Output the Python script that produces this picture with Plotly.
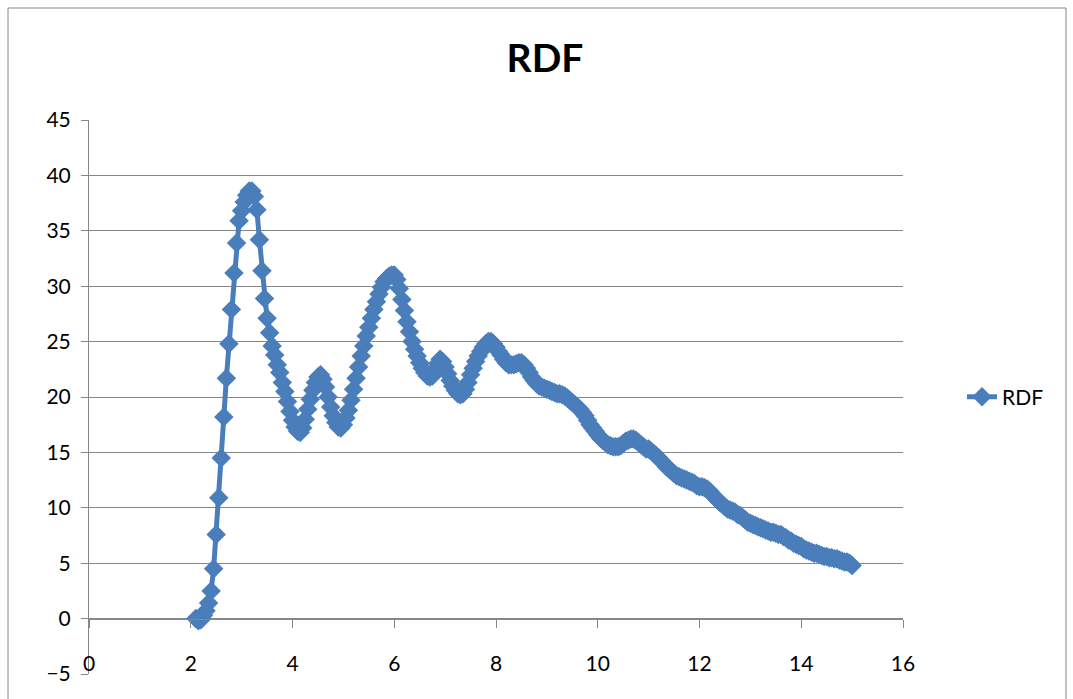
import numpy as np
import plotly.graph_objects as go

# x grid: 2.10 .. 15.00 step 0.05
x_start, x_step = 2.10, 0.05

rdf_values = [
    0.0, -0.2, -0.1, 0.3, 0.7, 1.4, 2.5, 4.5, 7.6, 10.9,            # 2.10-2.55
    14.5, 18.2, 21.7, 24.8, 27.9, 31.2, 33.9, 35.9, 36.8, 37.6,     # 2.60-3.05
    38.2, 38.6, 38.6, 38.1, 36.9, 34.2, 31.4, 28.9, 27.1, 25.8,     # 3.10-3.55
    24.6, 23.8, 22.9, 22.2, 21.3, 20.5, 19.6, 18.7, 17.9, 17.3,     # 3.60-4.05
    16.9, 16.8, 17.2, 18.0, 18.9, 19.8, 20.6, 21.3, 21.8, 22.0,     # 4.10-4.55
    21.6, 20.9, 20.0, 19.1, 18.3, 17.7, 17.3, 17.2, 17.5, 18.1,     # 4.60-5.05
    18.8, 19.7, 20.7, 21.7, 22.7, 23.7, 24.6, 25.5, 26.3, 27.1,     # 5.10-5.55
    27.9, 28.6, 29.3, 29.9, 30.4, 30.7, 30.9, 31.0, 31.0, 30.6,     # 5.60-6.05
    29.8, 28.8, 27.8, 26.8, 25.9, 25.0, 24.3, 23.7, 23.1, 22.6,     # 6.10-6.55
    22.2, 21.9, 21.8, 21.9, 22.4, 23.0, 23.4, 23.2, 22.7, 22.1,     # 6.60-7.05
    21.5, 21.0, 20.6, 20.3, 20.2, 20.3, 20.7, 21.3, 22.0, 22.6,     # 7.10-7.55
    23.2, 23.7, 24.1, 24.5, 24.8, 25.0, 25.0, 24.8, 24.5, 24.1,     # 7.60-8.05
    23.8, 23.4, 23.1, 22.9, 22.9, 22.9, 23.0, 23.1, 23.1, 22.9,     # 8.10-8.55
    22.6, 22.2, 21.8, 21.5, 21.2, 21.0, 20.9, 20.8, 20.7, 20.6,     # 8.60-9.05
    20.5, 20.4, 20.3, 20.3, 20.2, 20.1, 19.9, 19.7, 19.5, 19.3,     # 9.10-9.55
    19.1, 18.9, 18.6, 18.3, 17.9, 17.5, 17.2, 16.9, 16.6, 16.3,     # 9.60-10.05
    16.1, 15.9, 15.7, 15.6, 15.5, 15.5, 15.5, 15.6, 15.8, 16.0,     # 10.10-10.55
    16.1, 16.2, 16.2, 16.1, 15.9, 15.7, 15.5, 15.3, 15.3, 15.1,     # 10.60-11.05
    14.9, 14.7, 14.5, 14.2, 14.0, 13.7, 13.5, 13.3, 13.1, 12.9,     # 11.10-11.55
    12.8, 12.7, 12.6, 12.5, 12.4, 12.3, 12.2, 12.0, 11.9, 11.9,     # 11.60-12.05
    11.8, 11.7, 11.5, 11.2, 11.0, 10.7, 10.5, 10.3, 10.1, 9.9,      # 12.10-12.55
    9.8, 9.7, 9.6, 9.4, 9.3, 9.1, 8.9, 8.7, 8.6, 8.5,               # 12.60-13.05
    8.4, 8.3, 8.2, 8.1, 8.0, 7.9, 7.8, 7.8, 7.7, 7.6,               # 13.10-13.55
    7.6, 7.4, 7.3, 7.1, 7.0, 6.8, 6.7, 6.6, 6.5, 6.3,               # 13.60-14.05
    6.2, 6.1, 6.0, 5.9, 5.9, 5.8, 5.7, 5.6, 5.6, 5.5,               # 14.10-14.55
    5.5, 5.4, 5.4, 5.3, 5.2, 5.1, 5.1, 5.0, 4.8,                    # 14.60-15.00
]
x_values = np.round(x_start + x_step * np.arange(len(rdf_values)), 2)

x_ticks = [0, 2, 4, 6, 8, 10, 12, 14, 16]
y_ticks = [-5, 0, 5, 10, 15, 20, 25, 30, 35, 40, 45]

series_name = "RDF"
title_text = "RDF"

BLUE = "#4a7ebb"
GRID = "#868686"
FONT = "Lato"

fig = go.Figure()
fig.add_trace(go.Scatter(
    x=x_values, y=rdf_values, mode="lines+markers", name=series_name,
    line=dict(color=BLUE, width=5),
    marker=dict(symbol="diamond", size=15, color=BLUE, line=dict(width=0)),
))

L, R, T, B = 89, 170, 120, 25
W, H = 1073, 699
pw, ph = W - L - R, H - T - B

fig.update_layout(
    width=W, height=H,
    margin=dict(l=L, r=R, t=T, b=B),
    paper_bgcolor="white", plot_bgcolor="white",
    font=dict(family=FONT, size=21, color="black"),
    title=dict(text=f"<b>{title_text}</b>", xref="container", yref="container",
               x=545 / W, y=1 - 58 / H, xanchor="center", yanchor="middle",
               font=dict(family=FONT, size=39, color="black")),
    showlegend=True,
    legend=dict(x=(962 - L) / pw, y=0.5, xanchor="left", yanchor="middle",
                font=dict(family=FONT, size=21, color="black"),
                bgcolor="rgba(0,0,0,0)"),
    xaxis=dict(range=[0, 16], tickvals=x_ticks, anchor="free", position=5 / 50,
               showgrid=False, zeroline=False, showline=True, linecolor=GRID,
               linewidth=1, ticks="outside", ticklen=8, tickcolor=GRID,
               ticklabelstandoff=18, fixedrange=True),
    yaxis=dict(range=[-5, 45], tickvals=y_ticks, showgrid=True, gridcolor=GRID,
               gridwidth=1, zeroline=False, showline=True, linecolor=GRID,
               linewidth=1, ticks="outside", ticklen=7, tickcolor=GRID,
               ticklabelstandoff=6, fixedrange=True),
    shapes=[dict(type="rect", xref="paper", yref="paper",
                 x0=(8 - L) / pw, x1=(1066 - L) / pw,
                 y0=(H - B - 705) / ph, y1=(H - B - 8) / ph,
                 line=dict(color=GRID, width=1), fillcolor="rgba(0,0,0,0)",
                 layer="below")],
)

fig.write_html("out.html")
